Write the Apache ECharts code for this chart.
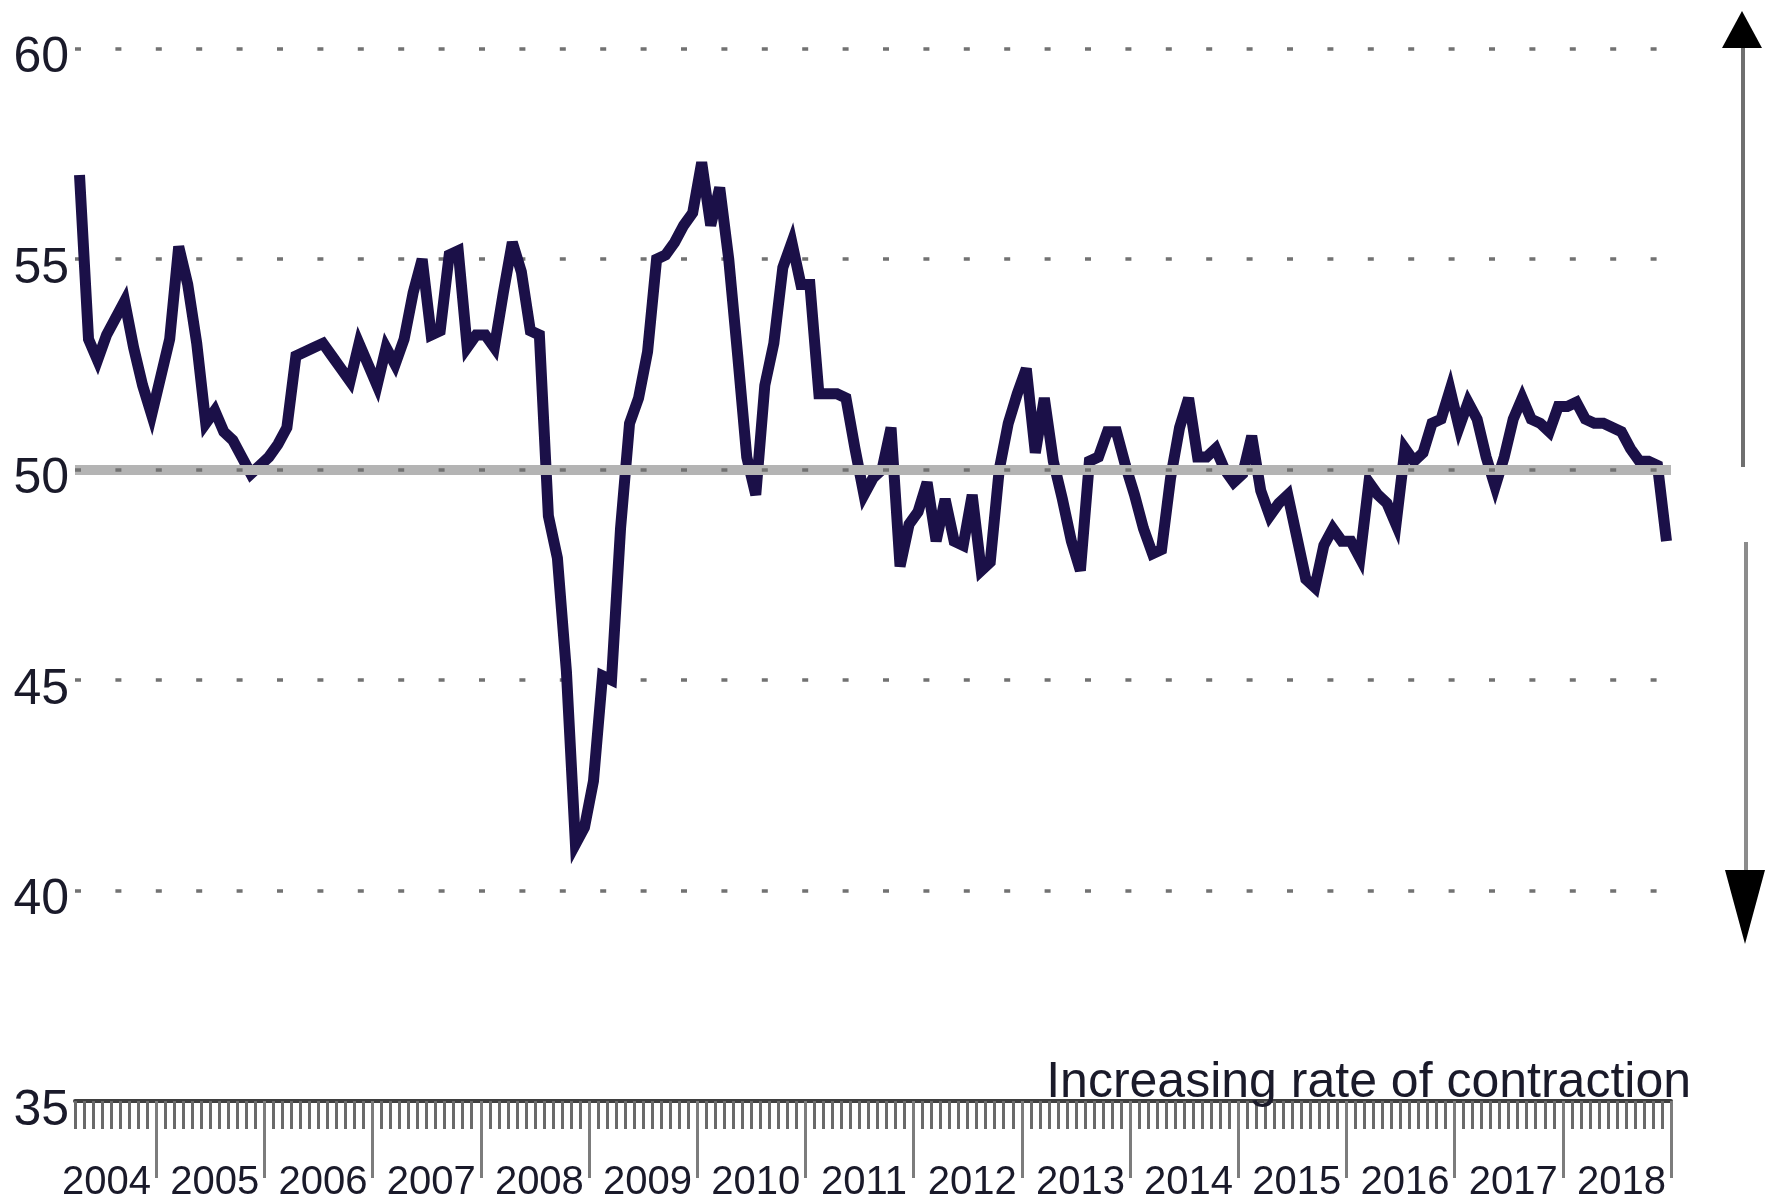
<!DOCTYPE html>
<html>
<head>
<meta charset="utf-8">
<title>Index</title>
<script src="https://cdn.jsdelivr.net/npm/echarts@6/dist/echarts.min.js"></script>
<style>
  html, body { margin: 0; padding: 0; background: #fff; }
  #chart { width: 1777px; height: 1203px; }
</style>
</head>
<body>
<div id="chart"></div>
<script>
// monthly readings, series starts Apr 2004
const firstMonth = 4
const years = ['2004', '2005', '2006', '2007', '2008', '2009', '2010', '2011', '2012', '2013', '2014', '2015', '2016', '2017', '2018']
const v2004 = [57.0, 53.1, 52.6, 53.2, 53.6, 54.0, 52.9, 52.0, 51.3]
const v2005 = [52.2, 53.1, 55.3, 54.4, 53.0, 51.1, 51.4, 50.9, 50.7, 50.3, 49.9, 50.1]
const v2006 = [50.3, 50.6, 51.0, 52.7, 52.8, 52.9, 53.0, 52.7, 52.4, 52.1, 53.0, 52.5]
const v2007 = [52.0, 52.9, 52.5, 53.1, 54.2, 55.0, 53.2, 53.3, 55.1, 55.2, 52.9, 53.2]
const v2008 = [53.2, 52.9, 54.2, 55.4, 54.7, 53.3, 53.2, 48.9, 47.9, 45.2, 41.1, 41.5]
const v2009 = [42.6, 45.1, 45.0, 48.6, 51.1, 51.7, 52.8, 55.0, 55.1, 55.4, 55.8, 56.1]
const v2010 = [57.3, 55.8, 56.7, 55.0, 52.7, 50.3, 49.4, 52.0, 53.0, 54.8, 55.4, 54.4]
const v2011 = [54.4, 51.8, 51.8, 51.8, 51.7, 50.5, 49.4, 49.8, 50.0, 51.0, 47.7, 48.7]
const v2012 = [49.0, 49.7, 48.3, 49.3, 48.3, 48.2, 49.4, 47.6, 47.8, 50.0, 51.1, 51.8]
const v2013 = [52.4, 50.4, 51.7, 50.2, 49.3, 48.3, 47.6, 50.2, 50.3, 50.9, 50.9, 50.1]
const v2014 = [49.4, 48.6, 48.0, 48.1, 49.8, 51.0, 51.7, 50.3, 50.3, 50.5, 50.0, 49.7]
const v2015 = [49.9, 50.8, 49.5, 48.9, 49.2, 49.4, 48.4, 47.4, 47.2, 48.2, 48.6, 48.3]
const v2016 = [48.3, 47.9, 49.7, 49.4, 49.2, 48.7, 50.5, 50.2, 50.4, 51.1, 51.2, 51.9]
const v2017 = [51.0, 51.6, 51.2, 50.3, 49.6, 50.3, 51.2, 51.7, 51.2, 51.1, 50.9, 51.5]
const v2018 = [51.5, 51.6, 51.2, 51.1, 51.1, 51.0, 50.9, 50.5, 50.2, 50.2, 50.1, 48.3]
const yTicks = [35, 40, 45, 50, 55, 60]
const noChange = 50
const noteText = 'Increasing rate of contraction'

const yearly = [v2004, v2005, v2006, v2007, v2008, v2009, v2010, v2011, v2012, v2013, v2014, v2015, v2016, v2017, v2018]
const months = []
const values = []
yearly.forEach(function (arr, yi) {
  const start = yi === 0 ? firstMonth : 1
  arr.forEach(function (v, mi) {
    const m = start + mi
    months.push(years[yi] + '-' + (m < 10 ? '0' + m : '' + m))
    values.push(v)
  })
})

// year scale in months counted from Jan of the first year
const axisStart = firstMonth - 1
const axisEnd = years.length * 12
const yearBounds = []
const yearMids = []
years.forEach(function (y, i) {
  yearBounds.push((i + 1) * 12)
  yearMids.push(i * 12 + 6.5)
})

const font = "'Liberation Sans', Arial, sans-serif"
const chart = echarts.init(document.getElementById('chart'), null, { renderer: 'canvas' })

chart.setOption({
  animation: false,
  backgroundColor: '#ffffff',
  grid: { left: 75, right: 106, top: 48.7, bottom: 98, containLabel: false },
  xAxis: [
    {
      type: 'category',
      position: 'bottom',
      data: months,
      boundaryGap: true,
      axisLine: { show: true, lineStyle: { color: '#3f3f3f', width: 4 } },
      axisTick: { show: true, interval: 0, length: 28, lineStyle: { color: '#6a6a6a', width: 3 } },
      axisLabel: { show: false },
      splitLine: { show: false }
    },
    {
      type: 'value',
      position: 'bottom',
      min: axisStart,
      max: axisEnd,
      axisLine: { show: false },
      axisTick: {
        show: true,
        length: 77,
        customValues: yearBounds,
        lineStyle: { color: '#7c7c7c', width: 3 }
      },
      axisLabel: {
        show: true,
        customValues: yearMids,
        formatter: function (val) { return years[Math.floor(val / 12)] },
        margin: 62,
        fontFamily: font,
        fontSize: 40,
        color: '#1a1a2a'
      },
      splitLine: { show: false }
    }
  ],
  yAxis: {
    type: 'value',
    min: yTicks[0],
    max: yTicks[yTicks.length - 1],
    interval: 5,
    axisLine: { show: false },
    axisTick: { show: false },
    axisLabel: {
      margin: 6,
      fontFamily: font,
      fontSize: 50,
      color: '#1a1a2a',
      verticalAlign: 'top',
      lineHeight: 20
    },
    splitLine: {
      show: true,
      lineStyle: { color: '#727272', width: 3.5, type: [6, 34.4] }
    }
  },
  series: [
    {
      name: 'ref',
      type: 'line',
      data: [],
      z: 1,
      silent: true,
      markLine: {
        silent: true,
        symbol: 'none',
        label: { show: false },
        data: [
          { yAxis: noChange, lineStyle: { color: '#b4b4b4', width: 10, type: 'solid' } },
          { yAxis: noChange, lineStyle: { color: '#727272', width: 3.5, type: [6, 34.4] } }
        ]
      }
    },
    {
      name: 'index',
      type: 'line',
      data: values,
      z: 3,
      showSymbol: false,
      symbol: 'none',
      lineStyle: { color: '#1b1048', width: 11, join: 'miter', miterLimit: 4, cap: 'butt' }
    }
  ],
  graphic: [
    {
      type: 'text',
      x: 1691,
      y: 1108,
      z: 10,
      style: {
        text: noteText,
        font: '50px ' + font,
        fill: '#1a1a2a',
        align: 'right',
        verticalAlign: 'bottom'
      }
    },
    { type: 'polygon', shape: { points: [[1742, 11], [1722, 48], [1762, 48]] }, style: { fill: '#000000' } },
    { type: 'line', shape: { x1: 1743, y1: 48, x2: 1743, y2: 467 }, style: { stroke: '#6f6f6f', lineWidth: 4 } },
    { type: 'line', shape: { x1: 1746, y1: 542, x2: 1746, y2: 871 }, style: { stroke: '#8c8c8c', lineWidth: 4 } },
    { type: 'polygon', shape: { points: [[1725, 870], [1765, 870], [1745, 944]] }, style: { fill: '#000000' } }
  ]
})
</script>
</body>
</html>
